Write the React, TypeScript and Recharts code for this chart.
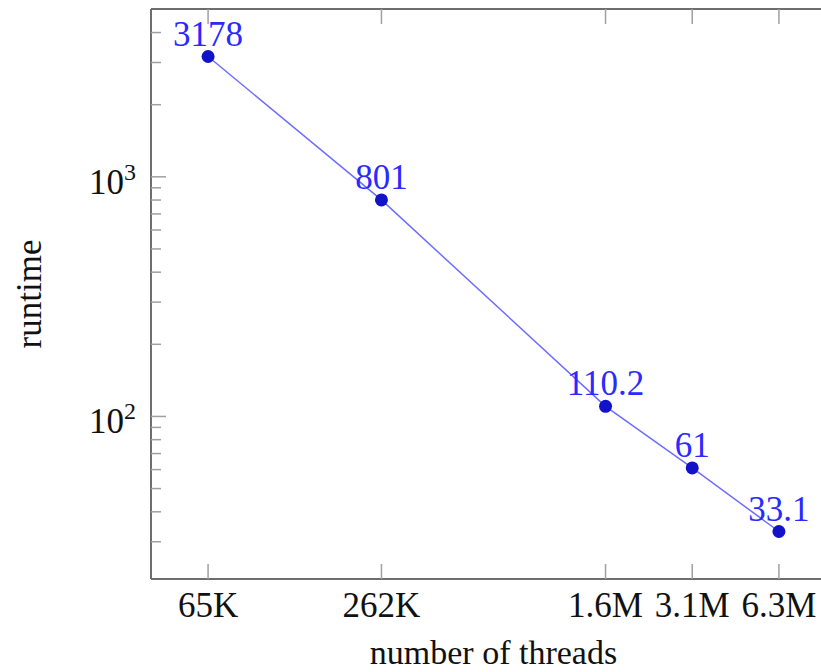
import React from "react";
import { LineChart, Line, XAxis, YAxis, LabelList } from "recharts";

const threads = [65536, 262144, 1572864, 3145728, 6291456];
const threadLabels = ["65K", "262K", "1.6M", "3.1M", "6.3M"];
const runtime = [3178, 801, 110.2, 61, 33.1];

const yMajor = [100, 1000];
const yMinor = [30, 40, 50, 60, 70, 80, 90, 200, 300, 400, 500, 600, 700, 800, 900, 2000, 3000, 4000];

const data = threads.map((t, i) => ({ threads: t, runtime: runtime[i], label: threadLabels[i] }));

// pgfplots-style "enlarge limits" of 10% in log space
const enlarge = (vals: number[]): [number, number] => {
  const lo = Math.log10(Math.min(...vals));
  const hi = Math.log10(Math.max(...vals));
  const pad = (hi - lo) * 0.1;
  return [Math.pow(10, lo - pad), Math.pow(10, hi + pad)];
};
const xDomain = enlarge(threads);
const yDomain = enlarge(runtime);

const FONT = "'Liberation Serif', 'DejaVu Serif', serif";
const FS = 35;
const TICK = "#a0a0a0";
const FRAME = "#6e6e6e";

const XTick = (props: any) => {
  const { x, y, payload } = props;
  const i = threads.indexOf(payload.value);
  return (
    <g>
      <line x1={x} x2={x} y1={y} y2={y - 15} stroke={TICK} strokeWidth={1.5} />
      <text x={x} y={y + 38} textAnchor="middle" fontFamily={FONT} fontSize={FS} fill="#111">
        {threadLabels[i]}
      </text>
    </g>
  );
};

const TopTick = (props: any) => {
  const { x, y } = props;
  return <line x1={x} x2={x} y1={y} y2={y + 15} stroke={TICK} strokeWidth={1.5} />;
};

const YTick = (props: any) => {
  const { x, y, payload } = props;
  const major = yMajor.includes(payload.value);
  const exp = Math.round(Math.log10(payload.value));
  return (
    <g>
      <line x1={x} x2={x + (major ? 15 : 10)} y1={y} y2={y} stroke={TICK} strokeWidth={1.5} />
      {major && (
        <text x={x - 15} y={y + 17} textAnchor="end" fontFamily={FONT} fontSize={FS} fill="#111">
          10
          <tspan dy={-14} fontSize={24}>
            {exp}
          </tspan>
        </text>
      )}
    </g>
  );
};

const PointLabel = (props: any) => {
  const { x, y, value } = props;
  return (
    <text x={x} y={y - 11} textAnchor="middle" fontFamily={FONT} fontSize={FS} fill="#2a2aff">
      {value}
    </text>
  );
};

export default function App() {
  return (
    <div style={{ position: "fixed", left: 0, top: 0, width: 821, height: 672, overflow: "hidden", background: "#fff" }}>
      <LineChart width={860} height={672} data={data} margin={{ top: 8, right: 24, bottom: 0, left: 0 }}>
        <XAxis
          dataKey="threads"
          type="number"
          scale="log"
          domain={xDomain}
          allowDataOverflow
          ticks={threads}
          interval={0}
          height={93}
          tickSize={0}
          tickMargin={0}
          tickLine={false}
          tick={<XTick />}
          axisLine={{ stroke: FRAME, strokeWidth: 2 }}
          label={{
            content: (p: any) => {
              const vb = p.viewBox;
              return (
                <text x={vb.x + vb.width / 2} y={vb.y + 85} textAnchor="middle" fontFamily={FONT} fontSize={34} fill="#111">
                  number of threads
                </text>
              );
            },
          }}
        />
        <XAxis
          xAxisId="top"
          orientation="top"
          dataKey="threads"
          type="number"
          scale="log"
          domain={xDomain}
          allowDataOverflow
          ticks={threads}
          interval={0}
          height={1}
          tickSize={0}
          tickMargin={0}
          tickLine={false}
          tick={<TopTick />}
          axisLine={{ stroke: FRAME, strokeWidth: 2 }}
        />
        <YAxis
          type="number"
          scale="log"
          domain={yDomain}
          allowDataOverflow
          ticks={[...yMajor, ...yMinor]}
          interval={0}
          width={151}
          tickSize={0}
          tickMargin={0}
          tickLine={false}
          tick={<YTick />}
          axisLine={{ stroke: FRAME, strokeWidth: 2 }}
          label={{
            content: (p: any) => {
              const vb = p.viewBox;
              const cy = vb.y + vb.height / 2;
              return (
                <text x={41} y={cy} transform={`rotate(-90 41 ${cy})`} textAnchor="middle" fontFamily={FONT} fontSize={FS} fill="#111">
                  runtime
                </text>
              );
            },
          }}
        />
        <Line
          xAxisId={0}
          dataKey="runtime"
          stroke="#6e6eff"
          strokeWidth={1.5}
          isAnimationActive={false}
          dot={{ r: 6.5, fill: "#1212c8", stroke: "#1212c8", strokeWidth: 0 }}
          activeDot={false}
        >
          <LabelList dataKey="runtime" content={<PointLabel />} />
        </Line>
      </LineChart>
    </div>
  );
}
